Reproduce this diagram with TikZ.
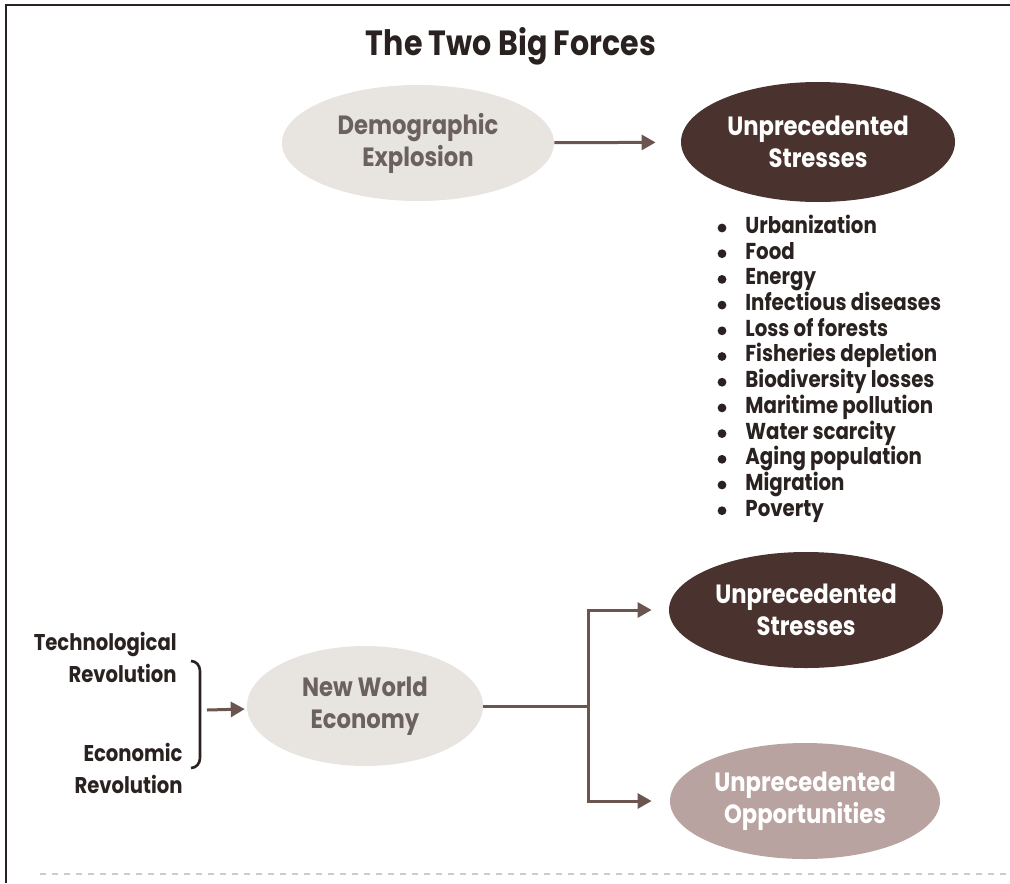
\documentclass[tikz,border=0pt]{standalone}
\usepackage{fontspec}
\setmainfont{Poppins}[FakeStretch=0.86]
\usetikzlibrary{shapes.geometric,arrows.meta}
\definecolor{lightfill}{HTML}{E8E5E1}
\definecolor{lighttext}{HTML}{6B625E}
\definecolor{darkfill}{HTML}{4A332E}
\definecolor{mauvefill}{HTML}{B9A3A0}
\definecolor{arrowcol}{HTML}{6A564F}
\definecolor{textcol}{HTML}{2A2220}
\begin{document}
\begin{tikzpicture}[x=0.5pt,y=-0.5pt,
    oval/.style = {ellipse,inner sep=0pt,align=center,font=\bfseries\fontsize{13.2}{16}\selectfont},
    light/.style = {oval,fill=lightfill,text=lighttext},
    dark/.style = {oval,fill=darkfill,text=white},
    mauve/.style = {oval,fill=mauvefill,text=white},
    link/.style = {line width=1.5pt,draw=arrowcol},
    arrow/.style = {link,-{Triangle[length=7pt,width=7.5pt]}},
    label/.style = {font=\bfseries\fontsize{11.4}{16}\selectfont,text=textcol,align=right,inner sep=0pt},
    listitem/.style = {font=\bfseries\fontsize{11.5}{12}\selectfont,text=textcol,inner sep=0pt,anchor=mid west}]
    \useasboundingbox (0,0) rectangle (1010,883);
    \draw[line width=1.2pt,textcol] (6,883) -- (6,5) -- (1010,5);
    \draw[gray!40,dashed,line width=0.6pt] (40,874) -- (1010,874);

    \node[font=\bfseries\fontsize{17.5}{20}\selectfont,text=textcol] (title) at (511,46) {The Two Big Forces};

    % upper row
    \node[light,minimum width=136pt,minimum height=58pt] (demo) at (418,143) {Demographic\\Explosion};
    \node[dark,minimum width=137pt,minimum height=60pt] (stressA) at (818,142) {Unprecedented\\Stresses};
    \draw[arrow,shorten >=12.5pt] (demo) -- (stressA);

    \foreach \stress [count=\i] in {Urbanization,Food,Energy,Infectious diseases,Loss of forests,
        Fisheries depletion,Biodiversity losses,Maritime pollution,Water scarcity,
        Aging population,Migration,Poverty}{
        \node[listitem] (item\i) at (745,{228+25.7*(\i-1)}) {\stress};
        \fill[textcol] ([xshift=-11.5pt]item\i.mid west) circle (2.2pt);
    }

    % lower row
    \node[label,anchor=east] (tech) at (177,657) {Technological\\Revolution};
    \node[label,anchor=east] (econ) at (183,768) {Economic\\Revolution};
    \draw[textcol,line width=1.3pt] (191,661) to[out=0,in=90] (200,671) -- (200,758) to[out=-90,in=0] (191,768);
    \coordinate (brace) at (207,710);

    \node[light,minimum width=118pt,minimum height=60pt] (nwe) at (365,706) {New World\\Economy};
    \node[dark,minimum width=137pt,minimum height=58pt] (stressB) at (806,610) {Unprecedented\\Stresses};
    \node[mauve,minimum width=135pt,minimum height=58pt] (opp) at (805,801) {Unprecedented\\Opportunities};

    \draw[arrow,shorten >=1pt] (brace) -- (nwe);
    \coordinate (split) at (588,706);
    \draw[link] (nwe.east) -- (split);
    \draw[arrow,shorten >=8.5pt] (split) |- (stressB.west);
    \draw[arrow,shorten >=9pt] (split) |- (opp.west);
\end{tikzpicture}
\end{document}
